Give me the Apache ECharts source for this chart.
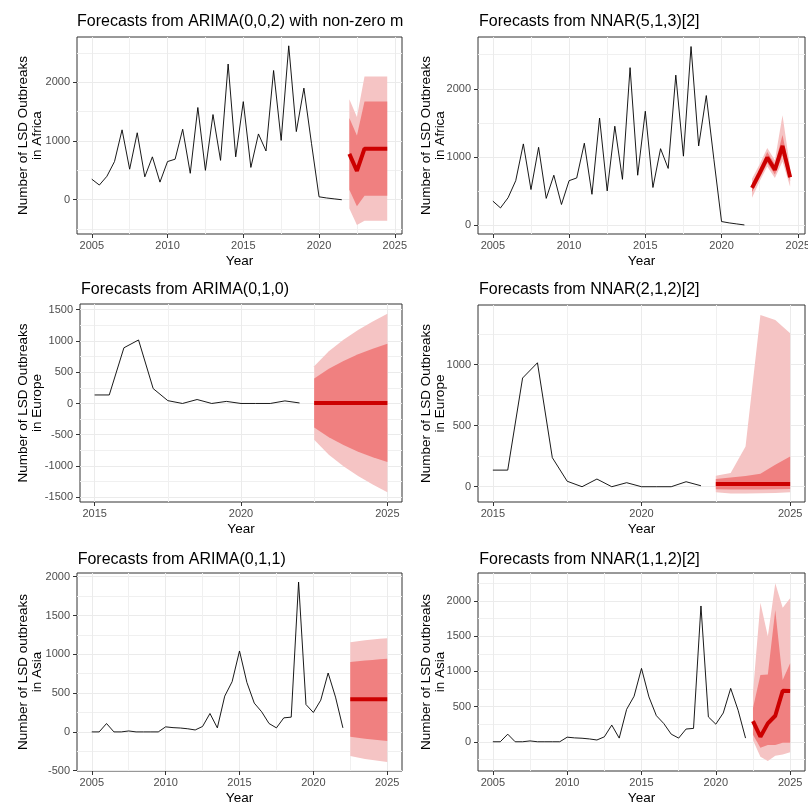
<!DOCTYPE html>
<html>
<head>
<meta charset="utf-8">
<title>LSD outbreak forecasts</title>
<script src="https://cdn.jsdelivr.net/npm/echarts@6/dist/echarts.min.js"></script>
<style>
  html, body { margin: 0; padding: 0; background: #fff; }
  #main { width: 808px; height: 805px; }
</style>
</head>
<body>
<div id="main"></div>
<script>
// observed outbreaks, half-yearly
var africaYears = [2005, 2005.5, 2006, 2006.5, 2007, 2007.5, 2008, 2008.5, 2009, 2009.5,
  2010, 2010.5, 2011, 2011.5, 2012, 2012.5, 2013, 2013.5, 2014, 2014.5,
  2015, 2015.5, 2016, 2016.5, 2017, 2017.5, 2018, 2018.5, 2019, 2019.5,
  2020, 2020.5, 2021, 2021.5];
var africaCases = [350, 250, 400, 650, 1190, 520, 1140, 390, 730, 300,
  650, 690, 1200, 450, 1570, 500, 1450, 670, 2310, 730,
  1670, 550, 1120, 830, 2200, 1010, 2620, 1160, 1900, 960,
  50, 30, 15, 0];

var europeYears = [2015, 2015.5, 2016, 2016.5, 2017, 2017.5, 2018, 2018.5, 2019, 2019.5,
  2020, 2020.5, 2021, 2021.5, 2022];
var europeCases = [136, 136, 890, 1015, 238, 45, 0, 63, 0, 33, 0, 0, 0, 41, 8];

var asiaYears = [2005, 2005.5, 2006, 2006.5, 2007, 2007.5, 2008, 2008.5, 2009, 2009.5,
  2010, 2010.5, 2011, 2011.5, 2012, 2012.5, 2013, 2013.5, 2014, 2014.5,
  2015, 2015.5, 2016, 2016.5, 2017, 2017.5, 2018, 2018.5, 2019, 2019.5,
  2020, 2020.5, 2021, 2021.5, 2022];
var asiaCases = [0, 0, 108, 0, 0, 12, 0, 0, 0, 0,
  65, 55, 50, 40, 25, 70, 237, 52, 461, 647,
  1043, 638, 371, 259, 108, 52, 181, 190, 1931, 353,
  250, 409, 759, 448, 52];

// forecast horizons
var africaFcYears = [2022, 2022.5, 2023, 2023.5, 2024, 2024.5];
var europeFcYears = [2022.5, 2023, 2023.5, 2024, 2024.5, 2025];
var asiaFcYears = [2022.5, 2023, 2023.5, 2024, 2024.5, 2025];

// ARIMA(0,0,2) Africa
var arimaAfMean = [780, 490, 870, 870, 870, 870];
var arimaAfLo80 = [172, -110, 68, 68, 68, 68];
var arimaAfHi80 = [1390, 1095, 1672, 1672, 1672, 1672];
var arimaAfLo95 = [-150, -430, -357, -357, -357, -357];
var arimaAfHi95 = [1712, 1410, 2097, 2097, 2097, 2097];

// NNAR(5,1,3)[2] Africa
var nnarAfMean = [545, 760, 990, 810, 1160, 700];
var nnarAfLo80 = [480, 690, 910, 740, 1020, 640];
var nnarAfHi80 = [610, 830, 1070, 890, 1320, 770];
var nnarAfLo95 = [400, 640, 860, 690, 930, 560];
var nnarAfHi95 = [680, 890, 1130, 950, 1610, 840];

// ARIMA(0,1,0) Europe
var arimaEuMean = [8, 8, 8, 8, 8, 8];
var arimaEuLo80 = [-385, -540, -665, -770, -860, -935];
var arimaEuHi80 = [400, 555, 680, 785, 875, 955];
var arimaEuLo95 = [-580, -820, -1005, -1160, -1295, -1420];
var arimaEuHi95 = [595, 835, 1020, 1175, 1310, 1435];

// NNAR(2,1,2)[2] Europe
var nnarEuMean = [22, 22, 22, 22, 22, 22];
var nnarEuLo80 = [-20, -22, -22, -22, -20, -18];
var nnarEuHi80 = [63, 76, 87, 106, 180, 248];
var nnarEuLo95 = [-45, -55, -55, -54, -52, -46];
var nnarEuHi95 = [90, 112, 330, 1406, 1365, 1257];

// ARIMA(0,1,1) Asia
var arimaAsMean = [422, 422, 422, 422, 422, 422];
var arimaAsLo80 = [-62, -75, -88, -98, -108, -116];
var arimaAsHi80 = [900, 910, 920, 928, 936, 944];
var arimaAsLo95 = [-312, -330, -348, -362, -375, -388];
var arimaAsHi95 = [1155, 1168, 1180, 1190, 1200, 1208];

// NNAR(1,1,2)[2] Asia
var nnarAsMean = [294, 71, 261, 370, 726, 721];
var nnarAsLo80 = [100, -85, -47, -47, -14, -14];
var nnarAsHi80 = [480, 949, 955, 1873, 880, 1115];
var nnarAsLo95 = [20, -213, -274, -199, -180, -151];
var nnarAsHi95 = [700, 1977, 1500, 2253, 1906, 2040];

// tick marks
var xMajorLong = [2005, 2010, 2015, 2020, 2025];
var xMinorLong = [2007.5, 2012.5, 2017.5, 2022.5];
var xMajorShort = [2015, 2020, 2025];
var xMinorShort = [2017.5, 2022.5];

var FONT = '"Liberation Sans", Arial, Helvetica, sans-serif';

var panels = [
  {
    box: [77, 37, 325, 197], titleTop: 13.6, titleLeft: 77, titleWidth: 330,
    title: 'Forecasts from ARIMA(0,0,2) with non-zero mean',
    yName: 'Number of LSD Outbreaks\nin Africa', nameGap: 33,
    xRange: [2004.025, 2025.475], yRange: [-583, 2770],
    xMajor: xMajorLong, xMinor: xMinorLong, yMajor: [0, 1000, 2000], yMinor: [-500, 500, 1500, 2500],
    years: africaYears, cases: africaCases, fcYears: africaFcYears,
    mean: arimaAfMean, lo80: arimaAfLo80, hi80: arimaAfHi80, lo95: arimaAfLo95, hi95: arimaAfHi95
  },
  {
    box: [478, 37, 327, 197], titleTop: 13.6, titleLeft: 479,
    title: 'Forecasts from NNAR(5,1,3)[2]',
    yName: 'Number of LSD Outbreaks\nin Africa', nameGap: 31,
    xRange: [2004.025, 2025.475], yRange: [-133, 2760],
    xMajor: xMajorLong, xMinor: xMinorLong, yMajor: [0, 1000, 2000], yMinor: [500, 1500, 2500],
    years: africaYears, cases: africaCases, fcYears: africaFcYears,
    mean: nnarAfMean, lo80: nnarAfLo80, hi80: nnarAfHi80, lo95: nnarAfLo95, hi95: nnarAfHi95
  },
  {
    box: [80, 304, 322, 198], titleTop: 281.2, titleLeft: 81,
    title: 'Forecasts from ARIMA(0,1,0)',
    yName: 'Number of LSD Outbreaks\nin Europe', nameGap: 36,
    xRange: [2014.5, 2025.5], yRange: [-1575, 1590],
    xMajor: xMajorShort, xMinor: xMinorShort,
    yMajor: [-1500, -1000, -500, 0, 500, 1000, 1500], yMinor: [-1250, -750, -250, 250, 750, 1250],
    years: europeYears, cases: europeCases, fcYears: europeFcYears,
    mean: arimaEuMean, lo80: arimaEuLo80, hi80: arimaEuHi80, lo95: arimaEuLo95, hi95: arimaEuHi95
  },
  {
    box: [478, 305, 327, 197], titleTop: 281.2, titleLeft: 479,
    title: 'Forecasts from NNAR(2,1,2)[2]',
    yName: 'Number of LSD Outbreaks\nin Europe', nameGap: 31,
    xRange: [2014.5, 2025.5], yRange: [-125, 1488],
    xMajor: xMajorShort, xMinor: xMinorShort, yMajor: [0, 500, 1000], yMinor: [250, 750, 1250],
    years: europeYears, cases: europeCases, fcYears: europeFcYears,
    mean: nnarEuMean, lo80: nnarEuLo80, hi80: nnarEuHi80, lo95: nnarEuLo95, hi95: nnarEuHi95
  },
  {
    box: [77, 573, 325, 198], titleTop: 551.2, titleLeft: 77.7,
    title: 'Forecasts from ARIMA(0,1,1)',
    yName: 'Number of LSD outbreaks\nin Asia', nameGap: 33,
    xRange: [2004, 2026], yRange: [-504, 2048],
    xMajor: xMajorLong, xMinor: xMinorLong,
    yMajor: [-500, 0, 500, 1000, 1500, 2000], yMinor: [-250, 250, 750, 1250, 1750],
    years: asiaYears, cases: asiaCases, fcYears: asiaFcYears,
    mean: arimaAsMean, lo80: arimaAsLo80, hi80: arimaAsHi80, lo95: arimaAsLo95, hi95: arimaAsHi95
  },
  {
    box: [478, 573, 327, 198], titleTop: 551.2, titleLeft: 479.3,
    title: 'Forecasts from NNAR(1,1,2)[2]',
    yName: 'Number of LSD outbreaks\nin Asia', nameGap: 31,
    xRange: [2004, 2026], yRange: [-416, 2400],
    xMajor: xMajorLong, xMinor: xMinorLong,
    yMajor: [0, 500, 1000, 1500, 2000], yMinor: [-250, 250, 750, 1250, 1750, 2250],
    years: asiaYears, cases: asiaCases, fcYears: asiaFcYears,
    mean: nnarAsMean, lo80: nnarAsLo80, hi80: nnarAsHi80, lo95: nnarAsLo95, hi95: nnarAsHi95
  }
];

function plain(v) { return String(v); }

function bandSeries(i, xs, lo, hi, color) {
  return {
    type: 'custom', xAxisIndex: 2 * i, yAxisIndex: 2 * i, silent: true, z: 2,
    data: xs.map(function (x, k) { return [x, lo[k], hi[k]]; }),
    encode: { x: 0, y: [1, 2] },
    renderItem: function (params, api) {
      if (params.dataIndex !== 0) return null;
      var pts = [];
      for (var k = 0; k < xs.length; k++) pts.push(api.coord([xs[k], hi[k]]));
      for (var k2 = xs.length - 1; k2 >= 0; k2--) pts.push(api.coord([xs[k2], lo[k2]]));
      return { type: 'polygon', shape: { points: pts }, style: { fill: color } };
    }
  };
}

var grids = [], xAxes = [], yAxes = [], series = [], titles = [];

panels.forEach(function (p, i) {
  grids.push({
    left: p.box[0], top: p.box[1], width: p.box[2], height: p.box[3],
    show: true, backgroundColor: '#fff', borderColor: '#333333', borderWidth: 1,
    containLabel: false, outerBoundsMode: 'none'
  });

  var t = {
    text: p.title, left: p.titleLeft, top: p.titleTop, padding: 0,
    textStyle: { fontFamily: FONT, fontSize: 16, fontWeight: 'normal', color: '#000' }
  };
  if (p.titleWidth) {
    t.textStyle.width = p.titleWidth;
    t.textStyle.overflow = 'truncate';
    t.textStyle.ellipsis = '';
  }
  titles.push(t);

  // major x axis: ticks, labels, major grid
  xAxes.push({
    type: 'value', gridIndex: i, position: 'bottom', min: p.xRange[0], max: p.xRange[1],
    axisLine: { show: false, onZero: false },
    axisTick: { show: true, length: 4, customValues: p.xMajor, lineStyle: { color: '#333333', width: 1 } },
    axisLabel: { customValues: p.xMajor, formatter: plain, color: '#4D4D4D', fontSize: 11, fontFamily: FONT, margin: 6 },
    splitLine: { show: true, lineStyle: { color: '#EBEBEB', width: 1 } },
    name: 'Year', nameLocation: 'middle', nameGap: 20,
    nameTextStyle: { color: '#000', fontSize: 13.5, fontFamily: FONT }
  });
  // minor x axis: grid lines only
  xAxes.push({
    type: 'value', gridIndex: i, position: 'top', min: p.xRange[0], max: p.xRange[1],
    axisLine: { show: false, onZero: false },
    axisTick: { show: false, customValues: p.xMinor },
    axisLabel: { show: false },
    splitLine: { show: true, lineStyle: { color: '#F0F0F0', width: 1 } }
  });

  yAxes.push({
    type: 'value', gridIndex: i, position: 'left', min: p.yRange[0], max: p.yRange[1],
    axisLine: { show: false, onZero: false },
    axisTick: { show: true, length: 4, customValues: p.yMajor, lineStyle: { color: '#333333', width: 1 } },
    axisLabel: { customValues: p.yMajor, formatter: plain, color: '#4D4D4D', fontSize: 11, fontFamily: FONT, margin: 7 },
    splitLine: { show: true, lineStyle: { color: '#EBEBEB', width: 1 } },
    name: p.yName, nameLocation: 'middle', nameRotate: 90, nameGap: p.nameGap, nameMoveOverlap: false,
    nameTextStyle: { color: '#000', fontSize: 13.5, fontFamily: FONT, lineHeight: 14 }
  });
  yAxes.push({
    type: 'value', gridIndex: i, position: 'right', min: p.yRange[0], max: p.yRange[1],
    axisLine: { show: false, onZero: false },
    axisTick: { show: false, customValues: p.yMinor },
    axisLabel: { show: false },
    splitLine: { show: true, lineStyle: { color: '#F0F0F0', width: 1 } }
  });

  series.push({
    type: 'line', xAxisIndex: 2 * i, yAxisIndex: 2 * i, z: 3, silent: true,
    data: p.years.map(function (y, k) { return [y, p.cases[k]]; }),
    showSymbol: false, symbol: 'none',
    lineStyle: { color: '#000', width: 0.9 }
  });
  series.push(bandSeries(i, p.fcYears, p.lo95, p.hi95, '#F5C4C4'));
  series.push(bandSeries(i, p.fcYears, p.lo80, p.hi80, '#F08080'));
  series.push({
    type: 'line', xAxisIndex: 2 * i, yAxisIndex: 2 * i, z: 4, silent: true,
    data: p.fcYears.map(function (y, k) { return [y, p.mean[k]]; }),
    showSymbol: false, symbol: 'none',
    lineStyle: { color: '#CC0000', width: 4 }
  });
});

var chart = echarts.init(document.getElementById('main'), null, { renderer: 'canvas' });
chart.setOption({
  animation: false,
  backgroundColor: '#fff',
  title: titles,
  grid: grids,
  xAxis: xAxes,
  yAxis: yAxes,
  series: series
});
</script>
</body>
</html>
